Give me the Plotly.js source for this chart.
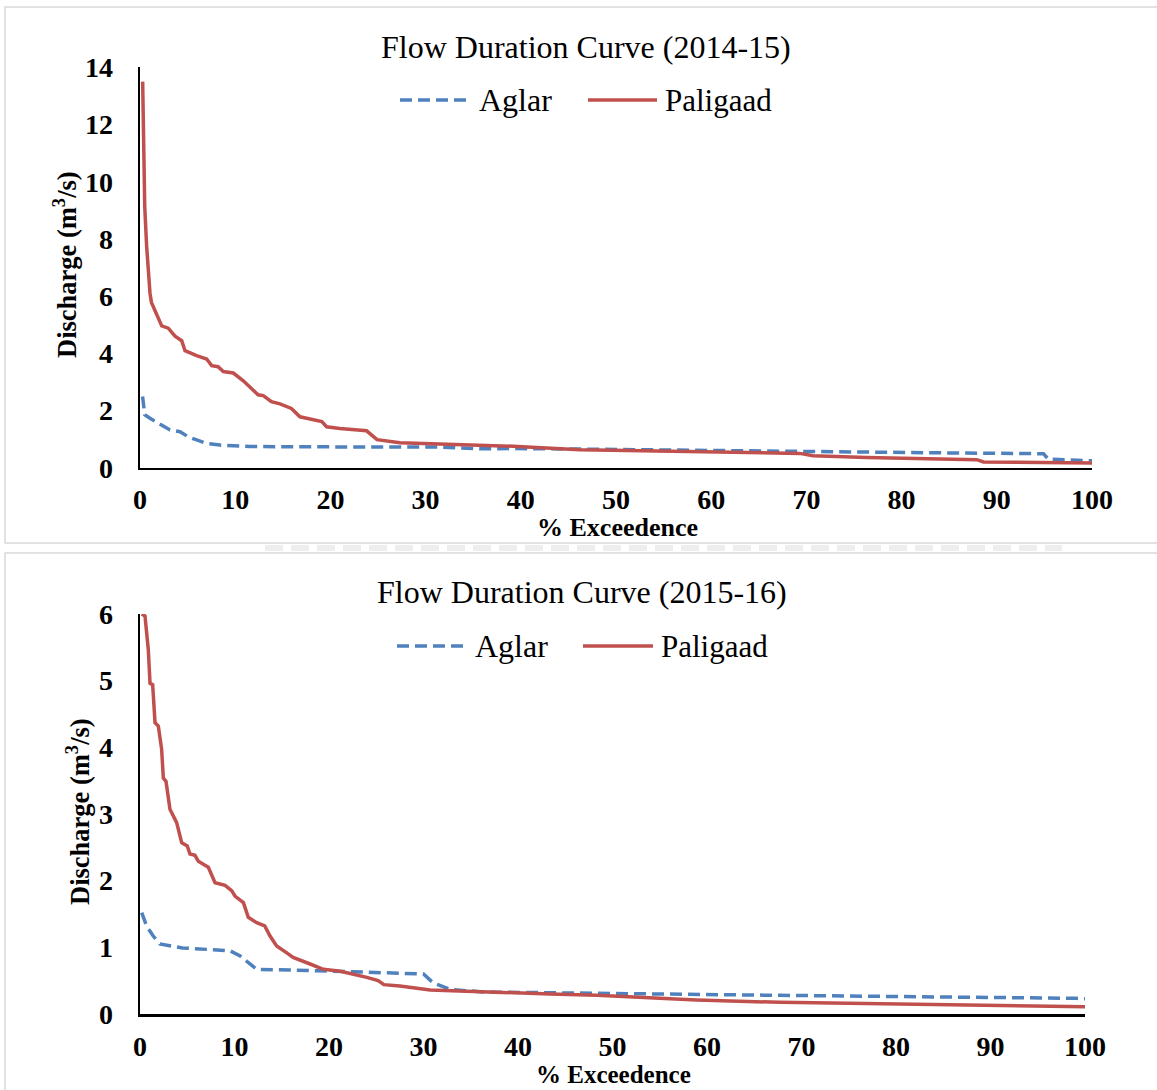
<!DOCTYPE html>
<html>
<head>
<meta charset="utf-8">
<script src="https://cdn.plot.ly/plotly-3.0.1.min.js"></script>
<style>
  html, body { margin: 0; padding: 0; background: #ffffff; }
  #chart { width: 1157px; height: 1090px; }
</style>
</head>
<body>
<div id="chart"></div>
<script>
// ---------- Data ----------
// Flow Duration Curve (2014-15)
const aglar1415_x = [0.27, 0.5, 1.05, 1.92, 2.45, 3.15, 4.2, 5.07, 5.95, 7.0, 8.4, 11.55, 26.6, 31.8, 35.7, 39.2, 46.2, 58.8, 67.2, 70.0, 86.8, 94.9, 95.4, 100];
const aglar1415_y = [2.49, 1.85, 1.73, 1.55, 1.43, 1.32, 1.26, 1.08, 0.97, 0.85, 0.79, 0.74, 0.72, 0.72, 0.66, 0.67, 0.65, 0.60, 0.57, 0.57, 0.51, 0.49, 0.30, 0.24];

const paligaad1415_x = [0.28, 0.42, 0.5, 0.7, 0.87, 1.05, 1.2, 1.75, 2.28, 2.97, 3.68, 4.38, 4.73, 5.95, 7.0, 7.53, 8.2, 8.75, 9.8, 10.85, 11.7, 12.4, 12.95, 13.8, 14.7, 15.9, 16.8, 17.9, 19.1, 19.6, 21.0, 23.8, 24.9, 27.3, 32.2, 39.2, 46.2, 58.8, 67.2, 69.3, 70.7, 76.3, 87.9, 88.6, 100];
const paligaad1415_y = [13.5, 11.4, 9.1, 7.73, 6.77, 6.1, 5.78, 5.37, 4.96, 4.88, 4.6, 4.44, 4.09, 3.92, 3.8, 3.57, 3.53, 3.36, 3.31, 3.04, 2.75, 2.55, 2.52, 2.31, 2.23, 2.07, 1.78, 1.70, 1.61, 1.43, 1.37, 1.29, 0.98, 0.87, 0.83, 0.75, 0.63, 0.57, 0.50, 0.50, 0.42, 0.36, 0.28, 0.20, 0.16];

// Flow Duration Curve (2015-16)
const aglar1516_x = [0.18, 0.7, 1.4, 2.1, 4.5, 9.5, 10.6, 12.35, 18.7, 30.0, 31.0, 32.8, 36.3, 44.8, 67.7, 99.1, 100];
const aglar1516_y = [1.52, 1.32, 1.17, 1.05, 0.99, 0.95, 0.87, 0.67, 0.65, 0.60, 0.47, 0.37, 0.33, 0.32, 0.28, 0.235, 0.23];

const paligaad1516_x = [0.18, 0.53, 0.88, 1.06, 1.34, 1.59, 1.94, 2.29, 2.47, 2.75, 3.17, 3.88, 4.41, 5.0, 5.29, 5.82, 6.17, 7.23, 7.94, 9.0, 9.7, 10.05, 10.94, 11.46, 12.35, 13.2, 13.76, 14.46, 15.5, 16.2, 18.0, 19.4, 21.2, 22.6, 24.0, 25.2, 25.8, 27.5, 30.7, 43.4, 48.3, 58.9, 67.7, 100];
const paligaad1516_y = [6.0, 5.97, 5.46, 4.96, 4.94, 4.37, 4.32, 3.97, 3.54, 3.49, 3.07, 2.87, 2.57, 2.52, 2.40, 2.38, 2.29, 2.20, 1.97, 1.93, 1.85, 1.77, 1.67, 1.45, 1.37, 1.32, 1.17, 1.02, 0.92, 0.85, 0.75, 0.67, 0.64, 0.60, 0.55, 0.50, 0.44, 0.42, 0.36, 0.30, 0.28, 0.21, 0.175, 0.11];

const seriesNames = ["Aglar", "Paligaad"];
const chartTitles = ["Flow Duration Curve (2014-15)", "Flow Duration Curve (2015-16)"];
const xTickVals = [0, 10, 20, 30, 40, 50, 60, 70, 80, 90, 100];
const yTickVals1415 = [0, 2, 4, 6, 8, 10, 12, 14];
const yTickVals1516 = [0, 1, 2, 3, 4, 5, 6];
const xTitle = "% Exceedence";
const yTitle = "Discharge (m<sup>3</sup>/s)";

// ---------- Styling ----------
const W = 1157, H = 1090;
const px = v => v / W;
const py = v => 1 - v / H;
const BLUE = "#4F81BD", RED = "#C0504D";
const SERIF = "'Times New Roman', 'Liberation Serif', serif";
const blueLine = { color: BLUE, width: 3.5, dash: "12px,6px" };
const redLine = { color: RED, width: 3.5 };

const traces = [
  { x: aglar1415_x, y: aglar1415_y, name: seriesNames[0], type: "scatter", mode: "lines", line: blueLine, xaxis: "x", yaxis: "y", showlegend: false },
  { x: paligaad1415_x, y: paligaad1415_y, name: seriesNames[1], type: "scatter", mode: "lines", line: redLine, xaxis: "x", yaxis: "y", showlegend: false },
  { x: aglar1516_x, y: aglar1516_y, name: seriesNames[0], type: "scatter", mode: "lines", line: blueLine, xaxis: "x2", yaxis: "y2", showlegend: false },
  { x: paligaad1516_x, y: paligaad1516_y, name: seriesNames[1], type: "scatter", mode: "lines", line: redLine, xaxis: "x2", yaxis: "y2", showlegend: false }
];

const tickFont = { family: SERIF, size: 28, color: "#000", weight: "bold" };

function xAxis(domain, anchor, standoff) {
  return {
    domain: domain, anchor: anchor, range: [0, 100], tickvals: xTickVals,
    showgrid: false, zeroline: false, showline: true, linecolor: "#000", linewidth: 2.5,
    ticks: "", ticklabelstandoff: standoff, tickfont: tickFont, fixedrange: true
  };
}
function yAxis(domain, anchor, range, tickvals) {
  return {
    domain: domain, anchor: anchor, range: range, tickvals: tickvals,
    showgrid: false, zeroline: false, showline: true, linecolor: "#000", linewidth: 2.5,
    ticks: "", ticklabelstandoff: 19, tickfont: tickFont, fixedrange: true
  };
}

const legendRows = [
  { y: 100, blue: [400, 470], aglarX: 477, red: [588, 657], paliX: 663 },
  { y: 646, blue: [397, 467], aglarX: 473, red: [583, 653], paliX: 659 }
];

const shapes = [
  { type: "rect", xref: "paper", yref: "paper", x0: px(5), x1: px(1170), y0: py(7), y1: py(543), line: { color: "#d9d9d9", width: 1.5 } },
  { type: "rect", xref: "paper", yref: "paper", x0: px(5), x1: px(1170), y0: py(553), y1: py(1100), line: { color: "#d9d9d9", width: 1.5 } },
  { type: "line", xref: "paper", yref: "paper", x0: px(265), x1: px(1062), y0: py(548), y1: py(548), line: { color: "#eeeeee", width: 6, dash: "18px,8px" } }
];
const annotations = [];
legendRows.forEach((r) => {
  shapes.push({ type: "line", xref: "paper", yref: "paper", x0: px(r.blue[0]), x1: px(r.blue[1]), y0: py(r.y), y1: py(r.y), line: blueLine });
  shapes.push({ type: "line", xref: "paper", yref: "paper", x0: px(r.red[0]), x1: px(r.red[1]), y0: py(r.y), y1: py(r.y), line: redLine });
  annotations.push({ xref: "paper", yref: "paper", x: px(r.aglarX), y: py(r.y), xanchor: "left", yanchor: "middle", text: seriesNames[0], showarrow: false, font: { family: SERIF, size: 32, color: "#000" } });
  annotations.push({ xref: "paper", yref: "paper", x: px(r.paliX), y: py(r.y), xanchor: "left", yanchor: "middle", text: seriesNames[1], showarrow: false, font: { family: SERIF, size: 31, color: "#000" } });
});
// chart titles
annotations.push({ xref: "paper", yref: "paper", x: px(586), y: py(47), xanchor: "center", yanchor: "middle", text: chartTitles[0], showarrow: false, font: { family: SERIF, size: 32, color: "#000" } });
annotations.push({ xref: "paper", yref: "paper", x: px(582), y: py(592), xanchor: "center", yanchor: "middle", text: chartTitles[1], showarrow: false, font: { family: SERIF, size: 32, color: "#000" } });
// axis titles
const xTitleFont = { family: SERIF, size: 26, color: "#000", weight: "bold" };
const xTitleFont2 = { family: SERIF, size: 25, color: "#000", weight: "bold" };
const yTitleFont = { family: SERIF, size: 26.5, color: "#000", weight: "bold" };
annotations.push({ xref: "paper", yref: "paper", x: px(617), y: py(527), xanchor: "center", yanchor: "middle", text: "<b>" + xTitle + "</b>", showarrow: false, font: xTitleFont });
annotations.push({ xref: "paper", yref: "paper", x: px(613), y: py(1074), xanchor: "center", yanchor: "middle", text: "<b>" + xTitle + "</b>", showarrow: false, font: xTitleFont2 });
annotations.push({ xref: "paper", yref: "paper", x: px(65), y: py(265), xanchor: "center", yanchor: "middle", textangle: -90, text: "<b>" + yTitle + "</b>", showarrow: false, font: yTitleFont });
annotations.push({ xref: "paper", yref: "paper", x: px(78), y: py(812), xanchor: "center", yanchor: "middle", textangle: -90, text: "<b>" + yTitle + "</b>", showarrow: false, font: yTitleFont });

const layout = {
  width: W, height: H,
  margin: { l: 0, r: 0, t: 0, b: 0 },
  paper_bgcolor: "#ffffff", plot_bgcolor: "#ffffff",
  showlegend: false,
  xaxis: xAxis([px(140), px(1092)], "y", 5),
  yaxis: yAxis([py(467.7), py(67.3)], "x", [0, 14], yTickVals1415),
  xaxis2: xAxis([px(140), px(1085)], "y2", 6),
  yaxis2: yAxis([py(1014), py(614)], "x2", [0, 6], yTickVals1516),
  shapes: shapes,
  annotations: annotations
};

Plotly.newPlot("chart", traces, layout, { displayModeBar: false, staticPlot: true });
</script>
</body>
</html>
